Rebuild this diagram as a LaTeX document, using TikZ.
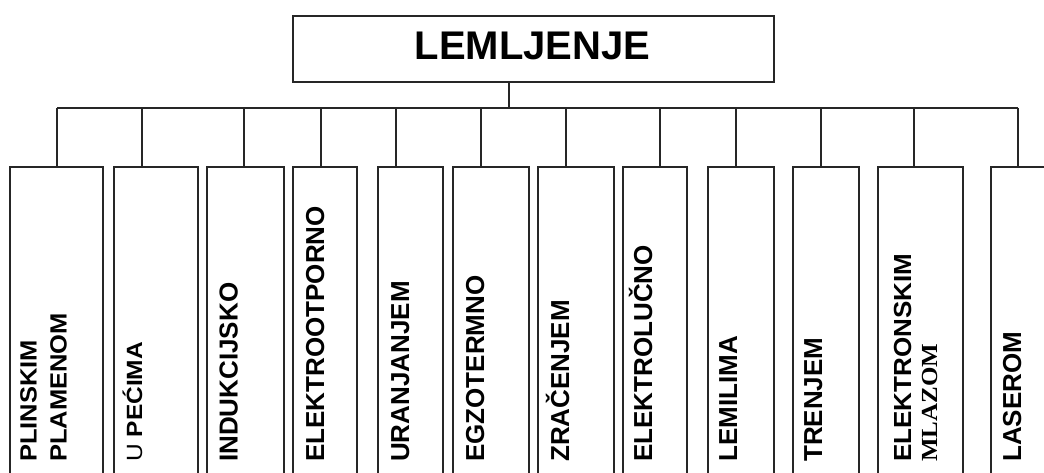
\documentclass[tikz,border=0pt]{standalone}
\usepackage{fontspec}
\setmainfont{Liberation Sans}
\newfontfamily\serifm{Liberation Serif}
\usepackage{graphicx}
\begin{document}
\begin{tikzpicture}[x=1pt,y=-1pt,
  ln/.style={draw=black!85, line width=1.6pt},
  box/.style={ln, rectangle, inner sep=0pt, anchor=north west, minimum height=314pt},
  lbl/.style={rotate=90, anchor=base west, inner sep=0pt, font=\fontsize{26}{30}\selectfont\bfseries},
  lbls/.style={rotate=90, anchor=base west, inner sep=0pt, font=\fontsize{25.5}{30}\selectfont\bfseries},
]
\useasboundingbox (0,0) rectangle (1044,473);
\clip (0,0) rectangle (1044,473);
\fill[white] (0,0) rectangle (1044,473);

% top box
\node[ln, rectangle, inner sep=0pt, anchor=north west, minimum width=481pt, minimum height=66pt] (top) at (292,15) {};
\node[anchor=base, inner sep=0pt, font=\fontsize{40}{44}\selectfont\bfseries] (title) at (532.5,60) {LEMLJENJE};

% boxes
\node[box, minimum width=93pt] (b1) at (9,166) {};
\node[box, minimum width=84pt] (b2) at (113,166) {};
\node[box, minimum width=77pt] (b3) at (206,166) {};
\node[box, minimum width=64pt] (b4) at (292,166) {};
\node[box, minimum width=65pt] (b5) at (377,166) {};
\node[box, minimum width=76pt] (b6) at (452,166) {};
\node[box, minimum width=76pt] (b7) at (537,166) {};
\node[box, minimum width=64pt] (b8) at (622,166) {};
\node[box, minimum width=66pt] (b9) at (707,166) {};
\node[box, minimum width=66pt] (b10) at (792,166) {};
\node[box, minimum width=85pt] (b11) at (877,166) {};
\node[box, minimum width=80pt] (b12) at (990,166) {};

% connectors
\coordinate (ts) at (509,108);
\coordinate (s1) at (57,108);
\coordinate (s2) at (142,108);
\coordinate (s3) at (244,108);
\coordinate (s4) at (321,108);
\coordinate (s5) at (396,108);
\coordinate (s6) at (481,108);
\coordinate (s7) at (566,108);
\coordinate (s8) at (660,108);
\coordinate (s9) at (736,108);
\coordinate (s10) at (821,108);
\coordinate (s11) at (914,108);
\coordinate (s12) at (1018,108);
\draw[ln] (ts |- top.south) -- (ts);
\draw[ln] (s1) -- (s12);
\foreach \i in {1,...,12} {\draw[ln] (s\i) -- (s\i |- b\i.north);}

% labels
\node[lbls] (t1a) at (36.5,462) {\scalebox{1}[0.92]{PLINSKIM}};
\node[lbls] (t1b) at (66.5,462) {\scalebox{1}[0.92]{PLAMENOM}};
\node[lbl, font=\fontsize{24.5}{30}\selectfont\bfseries] (t2) at (142,462) {\scalebox{1}[0.9]{{\mdseries U} PEĆIMA}};
\node[lbl] (t3) at (237.5,462) {INDUKCIJSKO};
\node[lbl] (t4) at (324,462) {ELEKTROOTPORNO};
\node[lbl] (t5) at (409,462) {URANJANJEM};
\node[lbl] (t6) at (484,462) {EGZOTERMNO};
\node[lbl] (t7) at (569,462) {ZRAČENJEM};
\node[lbl] (t8) at (652,462) {ELEKTROLUČNO};
\node[lbl] (t9) at (737,462) {LEMILIMA};
\node[lbl] (t10) at (822,462) {TRENJEM};
\node[lbl] (t11a) at (911,462) {\scalebox{1}[0.95]{ELEKTRONSKIM}};
\node[lbl, font=\fontsize{25}{30}\selectfont\serifm\bfseries] (t11b) at (937,462) {\scalebox{1}[0.92]{MLAZOM}};
\node[lbl] (t12) at (1021,462) {LASEROM};
\end{tikzpicture}
\end{document}
